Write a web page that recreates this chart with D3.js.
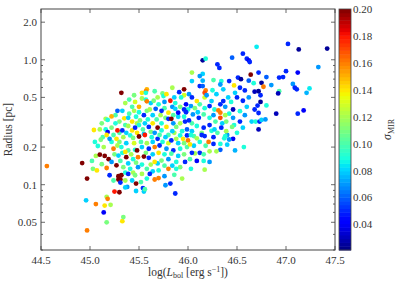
<!DOCTYPE html>
<html>
<head>
<meta charset="utf-8">
<script src="https://cdn.jsdelivr.net/npm/d3@7"></script>
<style>
  body { margin: 0; background: #fff; }
  text { font-family: "Liberation Serif", "DejaVu Serif", serif; fill: #333; }
</style>
</head>
<body>
<div id="chart"></div>
<script>
// axis ticks
const xTicks = [44.5, 45.0, 45.5, 46.0, 46.5, 47.0, 47.5];
const yMajor = [0.05, 0.1, 0.2, 0.5, 1.0, 2.0];
const yMinor = [0.03, 0.04, 0.06, 0.07, 0.08, 0.09, 0.3, 0.4, 0.6, 0.7, 0.8, 0.9];
const cTicks = [0.04, 0.06, 0.08, 0.10, 0.12, 0.14, 0.16, 0.18, 0.20];

// points : [log Lbol, radius (pc), sigma MIR]
const brightPoints = [
  [46.70,1.27,0.085],[46.56,1.12,0.05],[46.60,1.02,0.05],[46.62,0.99,0.04],[46.63,0.96,0.05],
  [46.15,0.99,0.025],[46.18,1.02,0.09],[46.45,1.04,0.06],[46.30,0.92,0.05],[46.32,0.86,0.05],
  [46.04,0.79,0.12],[46.15,0.77,0.08],[46.64,0.76,0.20],[46.72,0.79,0.05],[46.51,0.72,0.05],
  [46.54,0.70,0.025],[46.62,0.68,0.06],[46.67,0.65,0.09],[46.42,0.675,0.05],[46.26,0.688,0.10],
  [46.34,0.675,0.09],[46.33,0.634,0.07],[46.15,0.68,0.075],[46.04,0.675,0.08],[46.12,0.74,0.07],
  [46.47,0.623,0.14],[46.53,0.597,0.05],[46.58,0.568,0.05],[46.75,0.654,0.025],[46.77,0.608,0.16],
  [46.72,0.56,0.025],[46.68,0.555,0.03],[46.74,0.52,0.05],[46.48,0.544,0.08],[46.41,0.50,0.08],
  [46.50,0.50,0.05],[46.56,0.47,0.05],[46.62,0.50,0.07],[46.74,0.46,0.025],[46.68,0.40,0.05],
  [46.65,0.32,0.08],[46.69,0.32,0.09],[46.73,0.32,0.05],[46.72,0.277,0.03],[46.71,0.43,0.05],
  [46.72,0.375,0.05],[46.75,0.33,0.08],
  [47.02,1.34,0.05],[47.13,1.21,0.025],[47.42,1.23,0.025],[47.33,0.874,0.07],[47.00,0.81,0.05],
  [47.12,0.79,0.04],[46.80,0.727,0.06],[46.93,0.72,0.05],[46.97,0.727,0.05],[46.85,0.627,0.07],
  [47.07,0.64,0.07],[47.09,0.597,0.05],[47.11,0.58,0.05],[47.24,0.59,0.085],[47.21,0.544,0.075],
  [46.93,0.56,0.10],[46.92,0.538,0.03],[46.80,0.431,0.09],[46.90,0.37,0.03],[47.12,0.37,0.05],
  [47.18,0.393,0.04],[46.79,0.333,0.07]
];

const upperPoints = [
  [45.32,0.544,0.20],[45.58,0.58,0.15],[45.57,0.557,0.16],[45.53,0.544,0.14],[45.57,0.544,0.09],
  [45.84,0.597,0.12],[45.96,0.58,0.20],[45.91,0.55,0.05],[45.74,0.538,0.11],[45.75,0.512,0.09],
  [45.78,0.53,0.14],[46.01,0.53,0.07],[45.96,0.52,0.13],[45.53,0.49,0.12],[45.57,0.48,0.09],
  [45.58,0.465,0.16],[45.69,0.50,0.12],[45.82,0.47,0.18],[45.87,0.45,0.09],[45.98,0.44,0.04],
  [45.93,0.50,0.09],[45.28,0.39,0.06],[45.33,0.39,0.08],[45.43,0.42,0.10],[45.50,0.42,0.15],
  [45.61,0.40,0.12],[45.67,0.405,0.06],[45.73,0.39,0.05],[45.80,0.377,0.14],[45.87,0.405,0.08],
  [45.90,0.377,0.04],[45.98,0.38,0.05],[45.96,0.40,0.05],[45.35,0.34,0.14],[45.39,0.343,0.08],
  [45.47,0.35,0.09],[45.55,0.36,0.05],[45.43,0.32,0.14],[45.51,0.327,0.11],[45.59,0.333,0.09],
  [45.68,0.333,0.10],[45.77,0.343,0.11],[45.80,0.337,0.05],[45.83,0.337,0.20],[45.96,0.35,0.09],
  [46.01,0.327,0.05],[45.28,0.272,0.18],[45.33,0.272,0.05],[45.39,0.295,0.12],[45.43,0.272,0.14],
  [45.46,0.286,0.05],[45.50,0.30,0.09],[45.54,0.277,0.10],[45.60,0.29,0.05],[45.69,0.286,0.20],
  [45.73,0.272,0.09],[45.78,0.29,0.14],[45.88,0.29,0.11],[45.97,0.32,0.05],[45.94,0.268,0.09],
  [45.99,0.277,0.06],[45.84,0.268,0.08],
  [45.22,0.352,0.15],[45.16,0.337,0.12],[45.18,0.33,0.09],[45.04,0.274,0.14],[45.10,0.277,0.12],
  [45.16,0.277,0.09],[45.22,0.286,0.11],[45.18,0.264,0.04],
  [46.04,0.50,0.05],[46.03,0.426,0.07],[46.07,0.41,0.11],[46.09,0.467,0.14],[46.17,0.50,0.13],
  [46.18,0.568,0.16],[46.17,0.544,0.17],[46.19,0.52,0.07],[46.12,0.616,0.05],[46.15,0.616,0.06],
  [46.29,0.53,0.08],[46.36,0.467,0.05],[46.33,0.44,0.05],[46.24,0.467,0.08],[46.22,0.426,0.05],
  [46.17,0.41,0.09],[46.27,0.40,0.09],[46.31,0.393,0.16],[46.33,0.377,0.16],[46.33,0.343,0.17],
  [46.38,0.36,0.12],[46.46,0.40,0.03],[46.53,0.388,0.09],[46.46,0.343,0.07],[46.39,0.32,0.11],
  [46.53,0.32,0.05],[46.47,0.30,0.09],[46.45,0.29,0.11],[46.56,0.286,0.08],[46.05,0.365,0.07],
  [46.11,0.343,0.05],[46.16,0.365,0.10],[46.22,0.343,0.09],[46.09,0.295,0.09],[46.16,0.286,0.05],
  [46.22,0.30,0.05],[46.27,0.277,0.08],[46.34,0.286,0.05],[46.39,0.268,0.12],[46.04,0.268,0.08],
  [46.14,0.26,0.11]
];

const corePoints = [
  [45.27,0.233,0.14],[45.34,0.24,0.12],[45.41,0.248,0.09],[45.44,0.237,0.11],[45.50,0.243,0.20],
  [45.56,0.25,0.18],[45.63,0.24,0.09],[45.69,0.233,0.05],[45.71,0.25,0.10],[45.77,0.24,0.08],
  [45.83,0.226,0.05],[45.88,0.233,0.12],[45.92,0.248,0.09],[45.95,0.233,0.14],[45.99,0.248,0.05],
  [46.00,0.226,0.16],[45.28,0.206,0.12],[45.32,0.20,0.09],[45.39,0.188,0.10],[45.48,0.188,0.20],
  [45.53,0.20,0.08],[45.60,0.194,0.05],[45.66,0.20,0.16],[45.71,0.206,0.05],[45.78,0.194,0.07],
  [45.85,0.188,0.05],[45.92,0.194,0.09],[45.99,0.20,0.10],[45.36,0.183,0.14],[45.29,0.171,0.08],
  [45.37,0.166,0.20],[45.44,0.16,0.09],[45.49,0.166,0.16],[45.55,0.168,0.20],[45.60,0.164,0.05],
  [45.66,0.152,0.14],[45.73,0.156,0.11],[45.80,0.16,0.07],[45.88,0.152,0.09],[45.97,0.152,0.05],
  [45.83,0.177,0.10],[45.27,0.143,0.20],[45.34,0.138,0.11],[45.41,0.134,0.09],[45.49,0.138,0.07],
  [45.58,0.134,0.10],[45.61,0.122,0.05],[45.70,0.13,0.09],[45.80,0.134,0.16],[45.88,0.134,0.09],
  [45.76,0.117,0.07],[45.66,0.11,0.16],[45.70,0.113,0.16],[45.94,0.112,0.12],[45.29,0.117,0.20],
  [45.32,0.119,0.20],[45.31,0.11,0.20],[45.39,0.122,0.05],[45.46,0.119,0.11],[45.53,0.122,0.12],
  [45.47,0.102,0.20],[45.38,0.096,0.07],[45.47,0.089,0.08],[45.54,0.094,0.05],[45.55,0.088,0.08],
  [45.56,0.092,0.10],[45.77,0.099,0.07],[45.82,0.102,0.05],[45.87,0.085,0.05],
  [45.08,0.204,0.09],[45.11,0.229,0.11],[45.14,0.20,0.12],[45.24,0.194,0.16],[45.17,0.25,0.14],
  [45.20,0.233,0.07],[45.10,0.174,0.20],[45.15,0.17,0.20],[45.19,0.16,0.20],[45.22,0.152,0.07],
  [45.12,0.146,0.11],[45.17,0.136,0.16],[45.20,0.119,0.05],[45.24,0.108,0.10],
  [46.57,0.20,0.09],[46.48,0.188,0.075],[46.46,0.233,0.04],[46.42,0.23,0.07],[46.40,0.209,0.08],
  [46.38,0.245,0.09],[46.33,0.19,0.06],[46.33,0.212,0.09],[46.29,0.185,0.12],[46.26,0.212,0.05],
  [46.26,0.24,0.05],[46.37,0.235,0.09],[46.21,0.22,0.16],[46.22,0.185,0.12],[46.09,0.155,0.04],
  [46.16,0.155,0.09],[46.22,0.152,0.07],[46.17,0.132,0.12],[46.03,0.134,0.09],[46.12,0.18,0.05],
  [46.16,0.175,0.10],[46.07,0.178,0.12],[46.04,0.18,0.05],[46.02,0.21,0.14],[46.17,0.245,0.05],
  [46.14,0.25,0.05],[46.03,0.25,0.09],[46.09,0.235,0.12]
];

// crowded middle of the cloud
const crowdPoints = [
  [45.36,0.45,0.12],[45.40,0.48,0.10],[45.46,0.46,0.13],[45.50,0.38,0.09],[45.45,0.39,0.12],
  [45.62,0.45,0.08],[45.65,0.47,0.11],[45.70,0.44,0.09],[45.76,0.46,0.07],[45.72,0.36,0.12],
  [45.64,0.36,0.08],[45.58,0.39,0.11],[45.40,0.37,0.10],[45.30,0.32,0.11],[45.26,0.31,0.09],
  [45.36,0.30,0.10],[45.48,0.31,0.12],[45.56,0.31,0.08],[45.64,0.31,0.14],[45.73,0.31,0.09],
  [45.85,0.31,0.07],[45.92,0.31,0.12],[45.90,0.35,0.08],[45.85,0.36,0.10],[46.04,0.31,0.10],
  [45.30,0.26,0.10],[45.37,0.26,0.08],[45.48,0.26,0.14],[45.55,0.255,0.08],[45.62,0.265,0.11],
  [45.66,0.26,0.07],[45.80,0.25,0.10],[45.86,0.26,0.12],[46.06,0.245,0.10],[46.12,0.22,0.09],
  [45.24,0.25,0.10],[45.22,0.22,0.09],[45.30,0.22,0.11],[45.37,0.215,0.08],[45.45,0.215,0.13],
  [45.52,0.22,0.10],[45.58,0.215,0.12],[45.64,0.22,0.08],[45.74,0.22,0.09],[45.80,0.215,0.13],
  [45.90,0.215,0.08],[45.96,0.215,0.11],[46.06,0.205,0.08],[46.18,0.205,0.10],[46.24,0.27,0.09],
  [45.25,0.175,0.11],[45.33,0.18,0.09],[45.42,0.175,0.12],[45.46,0.19,0.09],[45.57,0.18,0.11],
  [45.64,0.175,0.08],[45.70,0.18,0.14],[45.76,0.175,0.09],[45.90,0.17,0.08],[45.96,0.175,0.11],
  [46.02,0.16,0.10],[45.31,0.155,0.10],[45.39,0.148,0.08],[45.47,0.15,0.11],[45.53,0.145,0.09],
  [45.62,0.145,0.12],[45.69,0.148,0.08],[45.76,0.142,0.10],[45.84,0.142,0.08],[45.92,0.138,0.11],
  [45.36,0.125,0.09],[45.44,0.125,0.12],[45.58,0.112,0.09],[45.64,0.128,0.08],[45.86,0.12,0.10],
  [45.43,0.108,0.08],[45.52,0.105,0.10],[45.36,0.108,0.12],
  [45.92,0.42,0.11],[45.84,0.42,0.07],[45.76,0.41,0.10],[46.00,0.40,0.09],[46.10,0.38,0.08],
  [46.12,0.44,0.10],[46.26,0.36,0.07],[46.28,0.32,0.10],[46.35,0.31,0.08],[46.42,0.37,0.09],
  [46.38,0.42,0.07],[46.44,0.46,0.09],[46.25,0.57,0.09],[46.36,0.58,0.08],[46.30,0.26,0.10],
  [46.40,0.25,0.07],[46.50,0.26,0.09],[46.58,0.36,0.07],[46.60,0.42,0.08],[45.86,0.50,0.08],
  [45.66,0.56,0.10],[45.45,0.52,0.11],[45.26,0.36,0.10],[45.12,0.31,0.11],[45.13,0.24,0.10],
  [45.05,0.22,0.09],[45.06,0.17,0.12],[45.02,0.155,0.10]
];

const faintPoints = [
  [44.56,0.141,0.16],[44.92,0.149,0.20],[44.97,0.112,0.20],[45.03,0.134,0.11],[45.07,0.13,0.14],
  [44.96,0.075,0.08],[45.06,0.070,0.16],[45.15,0.068,0.14],[45.21,0.069,0.12],[45.14,0.060,0.04],
  [45.17,0.08,0.12],[45.18,0.077,0.16],[45.17,0.050,0.11],[44.97,0.043,0.16],[45.33,0.051,0.14],
  [45.34,0.055,0.11],[45.25,0.088,0.18],[45.30,0.087,0.20],[45.36,0.095,0.08],[45.29,0.11,0.20],
  [45.31,0.104,0.05]
];

const points = [].concat(crowdPoints, brightPoints, upperPoints, corePoints, faintPoints);

const width = 399, height = 284;
const margin = {left: 41, top: 9, right: 335, bottom: 250};

const svg = d3.select("#chart").append("svg")
  .attr("width", width).attr("height", height);

const x = d3.scaleLinear().domain([44.5, 47.5]).range([margin.left, margin.right]);
const y = d3.scaleLog().domain([0.03, 2.55]).range([margin.bottom, margin.top]);

// jet colormap
const jetR = d3.scaleLinear().domain([0, 0.35, 0.66, 0.89, 1]).range([0, 0, 1, 1, 0.5]);
const jetG = d3.scaleLinear().domain([0, 0.125, 0.375, 0.64, 0.91, 1]).range([0, 0, 1, 1, 0, 0]);
const jetB = d3.scaleLinear().domain([0, 0.11, 0.34, 0.65, 1]).range([0.5, 1, 1, 0, 0]);
const norm = d3.scaleLinear().domain([0.021, 0.20]).range([0, 1]).clamp(true);
function jet(v) {
  const t = norm(v);
  return d3.rgb(jetR(t) * 255, jetG(t) * 255, jetB(t) * 255).toString();
}

// scatter
svg.append("g").selectAll("circle")
  .data(points)
  .join("circle")
  .attr("cx", d => x(d[0]))
  .attr("cy", d => y(d[1]))
  .attr("r", 2.4)
  .attr("fill", d => jet(d[2]));

// frame
svg.append("rect")
  .attr("x", margin.left).attr("y", margin.top)
  .attr("width", margin.right - margin.left)
  .attr("height", margin.bottom - margin.top)
  .attr("fill", "none").attr("stroke", "#444").attr("stroke-width", 1);

const ticks = svg.append("g").attr("stroke", "#444").attr("stroke-width", 0.8);
xTicks.forEach(t => {
  ticks.append("line").attr("x1", x(t)).attr("x2", x(t)).attr("y1", margin.bottom).attr("y2", margin.bottom - 4);
  ticks.append("line").attr("x1", x(t)).attr("x2", x(t)).attr("y1", margin.top).attr("y2", margin.top + 4);
});
yMajor.forEach(t => {
  ticks.append("line").attr("x1", margin.left).attr("x2", margin.left + 4).attr("y1", y(t)).attr("y2", y(t));
  ticks.append("line").attr("x1", margin.right).attr("x2", margin.right - 4).attr("y1", y(t)).attr("y2", y(t));
});
yMinor.forEach(t => {
  ticks.append("line").attr("x1", margin.left).attr("x2", margin.left + 2).attr("y1", y(t)).attr("y2", y(t));
  ticks.append("line").attr("x1", margin.right).attr("x2", margin.right - 2).attr("y1", y(t)).attr("y2", y(t));
});

// tick labels
svg.append("g").selectAll("text")
  .data(xTicks).join("text")
  .attr("x", d => x(d)).attr("y", margin.bottom + 14)
  .attr("text-anchor", "middle").attr("font-size", 11)
  .text(d => d.toFixed(1));

svg.append("g").selectAll("text")
  .data(yMajor).join("text")
  .attr("x", margin.left - 4).attr("y", d => y(d) + 4)
  .attr("text-anchor", "end").attr("font-size", 11)
  .text(d => d >= 1 ? d.toFixed(1) : String(d));

// axis labels
const xl = svg.append("text")
  .attr("x", (margin.left + margin.right) / 2).attr("y", 276)
  .attr("text-anchor", "middle").attr("font-size", 11.5);
xl.append("tspan").text("log(");
xl.append("tspan").attr("font-style", "italic").text("L");
xl.append("tspan").attr("font-size", 8).attr("dy", 2).text("bol");
xl.append("tspan").attr("dy", -2).text(" [erg s");
xl.append("tspan").attr("font-size", 8).attr("dy", -4).text("\u22121");
xl.append("tspan").attr("dy", 4).text("])");

svg.append("text")
  .attr("transform", `translate(12,${(margin.top + margin.bottom) / 2}) rotate(-90)`)
  .attr("text-anchor", "middle").attr("font-size", 11.5)
  .text("Radius [pc]");

// colorbar
const cb = {x: 339, w: 12};
const cy = d3.scaleLinear().domain([0.021, 0.20]).range([margin.bottom, margin.top]);
const nBands = 64;
const bands = d3.range(nBands).map(i => 0.021 + (0.20 - 0.021) * (i + 0.5) / nBands);
const bandH = (margin.bottom - margin.top) / nBands;
svg.append("g").selectAll("rect")
  .data(bands).join("rect")
  .attr("x", cb.x).attr("width", cb.w)
  .attr("y", d => cy(d) - bandH / 2).attr("height", bandH + 0.5)
  .attr("fill", d => jet(d));
svg.append("rect")
  .attr("x", cb.x).attr("y", margin.top).attr("width", cb.w)
  .attr("height", margin.bottom - margin.top)
  .attr("fill", "none").attr("stroke", "#444").attr("stroke-width", 0.8);

svg.append("g").selectAll("text")
  .data(cTicks).join("text")
  .attr("x", cb.x + cb.w + 2).attr("y", d => cy(d) + 4)
  .attr("font-size", 11)
  .text(d => d.toFixed(2));

const cl = svg.append("text")
  .attr("transform", `translate(391,${(margin.top + margin.bottom) / 2}) rotate(-90)`)
  .attr("text-anchor", "middle").attr("font-size", 12);
cl.append("tspan").attr("font-style", "italic").text("\u03c3");
cl.append("tspan").attr("font-size", 8).attr("dy", 2.5).text("MIR");
</script>
</body>
</html>
